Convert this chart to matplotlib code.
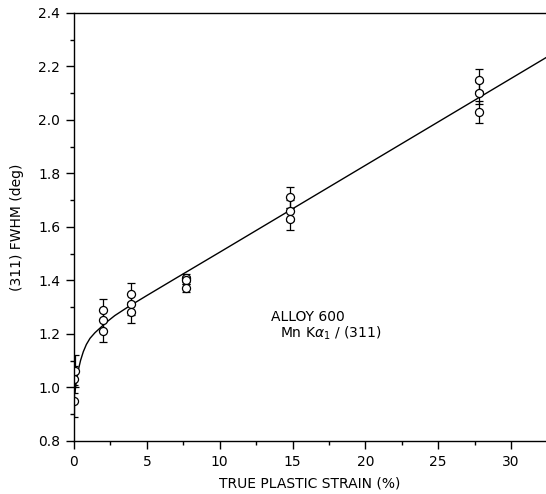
import numpy as np
import matplotlib.pyplot as plt
from matplotlib.ticker import MultipleLocator, FormatStrFormatter

plt.rcParams['font.family'] = ['DejaVu Sans']

# measured points (strain %, FWHM deg, error)
strain = [0.0, 0.0, 0.1, 2.0, 2.0, 2.0, 3.9, 3.9, 3.9, 7.7, 7.7, 7.7,
          14.8, 14.8, 14.8, 27.8, 27.8, 27.8]
fwhm = [0.95, 1.03, 1.06, 1.29, 1.25, 1.21, 1.35, 1.31, 1.28, 1.41, 1.40, 1.37,
        1.71, 1.66, 1.63, 2.15, 2.10, 2.03]
err = [0.06, 0.05, 0.06, 0.04, 0.04, 0.04, 0.04, 0.04, 0.04, 0.015, 0.015, 0.015,
       0.04, 0.04, 0.04, 0.04, 0.04, 0.04]

# fitted curve
fit_x = [0.07, 0.15, 0.3, 0.45, 0.64, 0.85, 1.1, 1.44, 1.78, 2.2, 2.8, 3.7,
         5.0, 7.0, 10.0, 20.0, 32.4]
fit_y = [0.98, 1.02, 1.065, 1.10, 1.133, 1.16, 1.183, 1.204, 1.221, 1.242, 1.268, 1.300,
         1.343, 1.408, 1.505, 1.830, 2.233]

fig = plt.figure(figsize=(5.46, 4.94), dpi=100)
ax = fig.add_axes([0.1355, 0.1079, 0.8645, 0.8658])

ax.plot(fit_x, fit_y, color='black', lw=1.0)
ax.errorbar(strain, fwhm, yerr=err, fmt='o', mfc='white', mec='black', ms=5.8,
            mew=0.9, ecolor='black', elinewidth=0.9, capsize=3, capthick=0.9)

ax.set_xlim(0, 32.4)
ax.set_ylim(0.8, 2.4)
ax.xaxis.set_major_locator(MultipleLocator(5))
ax.xaxis.set_minor_locator(MultipleLocator(2.5))
ax.yaxis.set_major_locator(MultipleLocator(0.2))
ax.yaxis.set_minor_locator(MultipleLocator(0.1))
ax.yaxis.set_major_formatter(FormatStrFormatter('%.1f'))
ax.tick_params(which='major', direction='out', length=6, width=1, labelsize=10,
               colors='black', pad=4)
ax.tick_params(which='minor', direction='out', length=3, width=1)
ax.spines['right'].set_visible(False)
for s in ['left', 'bottom', 'top']:
    ax.spines[s].set_linewidth(1.0)

ax.set_xlabel('TRUE PLASTIC STRAIN (%)', fontsize=10, labelpad=6)
ax.set_ylabel('(311) FWHM (deg)', fontsize=10, labelpad=10)

ax.text(13.55, 1.264, 'ALLOY 600', fontsize=10, va='center')
ax.text(14.17, 1.203, r'Mn K$\alpha_1$ / (311)', fontsize=10, va='center')

fig.savefig('out.png', dpi=100)
